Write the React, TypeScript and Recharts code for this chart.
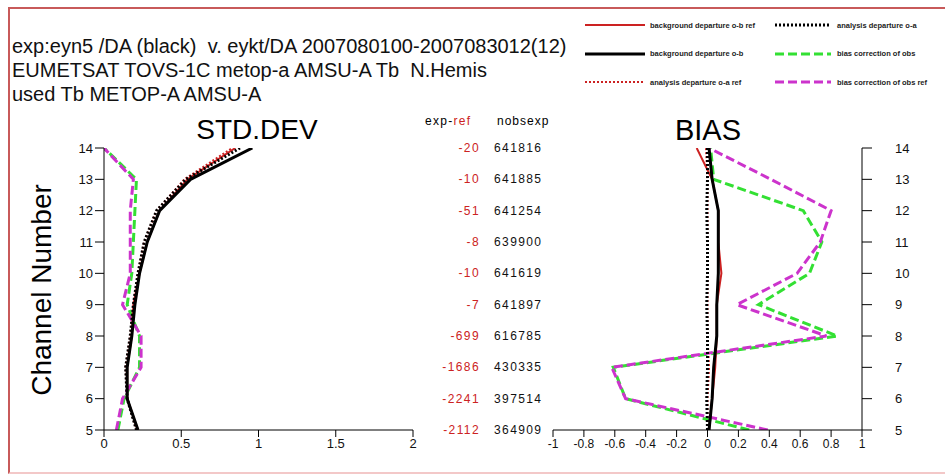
import { LineChart, Line, XAxis, YAxis } from "recharts";

const channels = [5, 6, 7, 8, 9, 10, 11, 12, 13, 14];

// STD.DEV panel, channel 5 -> 14
const stdObRef = [0.22, 0.15, 0.15, 0.18, 0.19, 0.23, 0.28, 0.36, 0.54, 0.85];
const stdObExp = [0.22, 0.15, 0.15, 0.18, 0.2, 0.23, 0.28, 0.36, 0.56, 0.96];
const stdOaRef = [0.21, 0.15, 0.14, 0.17, 0.19, 0.22, 0.26, 0.34, 0.52, 0.83];
const stdOaExp = [0.21, 0.15, 0.14, 0.17, 0.19, 0.22, 0.26, 0.34, 0.53, 0.88];
const stdBcExp = [0.09, 0.13, 0.23, 0.23, 0.15, 0.18, 0.19, 0.2, 0.21, 0.0];
const stdBcRef = [0.08, 0.12, 0.24, 0.24, 0.12, 0.17, 0.17, 0.17, 0.19, 0.0];

// BIAS panel, channel 5 -> 14
const biasObRef = [0.01, 0.03, 0.05, 0.06, 0.06, 0.09, 0.07, 0.07, 0.03, -0.07];
const biasObExp = [0.01, 0.03, 0.04, 0.06, 0.06, 0.07, 0.07, 0.07, 0.03, 0.01];
const biasOaRef = [0.0, 0.0, 0.01, 0.0, 0.0, 0.0, 0.0, 0.0, 0.0, -0.01];
const biasOaExp = [0.0, -0.005, 0.0, 0.0, -0.005, 0.0, 0.0, -0.005, 0.0, 0.0];
const biasBcExp = [0.27, -0.53, -0.61, 0.84, 0.33, 0.66, 0.74, 0.62, 0.04, 0.02];
const biasBcRef = [0.39, -0.53, -0.62, 0.77, 0.19, 0.58, 0.73, 0.8, 0.41, 0.01];

// middle table, channel 5 -> 14
const expMinusRef = [-2112, -2241, -1686, -699, -7, -10, -8, -51, -10, -20];
const nobsExp = [364909, 397514, 430335, 616785, 641897, 641619, 639900, 641254, 641885, 641816];

const stdTicks = [0, 0.5, 1, 1.5, 2];
const biasTicks = [-1, -0.8, -0.6, -0.4, -0.2, 0, 0.2, 0.4, 0.6, 0.8, 1];

const titleLines = [
  "exp:eyn5 /DA (black)  v. eykt/DA 2007080100-2007083012(12)",
  "EUMETSAT TOVS-1C metop-a AMSU-A Tb  N.Hemis",
  "used Tb METOP-A AMSU-A",
];

const RED = "#cc2222";
const GREEN = "#33e033";
const MAGENTA = "#cc33cc";
const FONT = "'Liberation Sans', Arial, sans-serif";

const series = [
  { key: "bcExp", name: "bias correction of obs", color: GREEN, width: 3, dash: "9 4" },
  { key: "bcRef", name: "bias correction of obs ref", color: MAGENTA, width: 3, dash: "9 4" },
  { key: "obRef", name: "background departure o-b ref", color: RED, width: 2, dash: undefined },
  { key: "oaRef", name: "analysis departure o-a ref", color: RED, width: 2, dash: "2 2" },
  { key: "obExp", name: "background departure o-b", color: "#000", width: 3, dash: undefined },
  { key: "oaExp", name: "analysis departure o-a", color: "#000", width: 3, dash: "2 2" },
];

const legendOrder = ["obRef", "oaExp", "obExp", "bcExp", "oaRef", "bcRef"];

const stdData = channels.map((ch, i) => ({
  ch,
  obRef: stdObRef[i],
  obExp: stdObExp[i],
  oaRef: stdOaRef[i],
  oaExp: stdOaExp[i],
  bcExp: stdBcExp[i],
  bcRef: stdBcRef[i],
}));

const biasData = channels.map((ch, i) => ({
  ch,
  obRef: biasObRef[i],
  obExp: biasObExp[i],
  oaRef: biasOaRef[i],
  oaExp: biasOaExp[i],
  bcExp: biasBcExp[i],
  bcRef: biasBcRef[i],
}));

const tickStyle = { fill: "#111", fontSize: 13, fontFamily: FONT };

function TableTick({ x, y, payload }: any) {
  const i = channels.indexOf(payload.value);
  return (
    <g fontFamily={FONT} fontSize={12} letterSpacing={1.4}>
      <text x={x + 67} y={y} dy={4} textAnchor="end" fill={RED}>{expMinusRef[i]}</text>
      <text x={x + 81} y={y} dy={4} fill="#111">{nobsExp[i]}</text>
    </g>
  );
}

function renderLines() {
  return series.map((s) => (
    <Line
      key={s.key}
      dataKey={s.key}
      stroke={s.color}
      strokeWidth={s.width}
      strokeDasharray={s.dash}
      dot={false}
      isAnimationActive={false}
    />
  ));
}

function LegendBox() {
  return (
    <div style={{ position: "absolute", left: 585, top: 18, width: 360, height: 90 }}>
      {legendOrder.map((k, i) => {
        const s = series.find((d) => d.key === k)!;
        const col = i % 2;
        const row = Math.floor(i / 2);
        return (
          <div key={k} style={{ position: "absolute", left: col * 190, top: row * 28.5, display: "flex", alignItems: "center", whiteSpace: "nowrap" }}>
            <svg width={col ? 56 : 60} height={14}>
              <line x1={0} y1={7} x2={col ? 56 : 60} y2={7} stroke={s.color} strokeWidth={s.width} strokeDasharray={s.dash} />
            </svg>
            <span style={{ fontFamily: FONT, fontSize: 7.5, fontWeight: "bold", color: "#222", marginLeft: col ? 6 : 5 }}>{s.name}</span>
          </div>
        );
      })}
    </div>
  );
}

export default function App() {
  return (
    <div style={{ position: "absolute", left: 0, top: 0, width: 945, height: 475, background: "#fff", overflow: "hidden", fontFamily: FONT }}>
      <div style={{ position: "absolute", left: 8, top: 7, width: 960, height: 463, borderLeft: "2px solid #c85a5a", borderTop: "2px solid #c85a5a", borderBottom: "2px solid #f3c8c8" }} />

      {titleLines.map((t, i) => (
        <div key={i} style={{ position: "absolute", left: 12, top: 35 + i * 24, fontSize: 20, lineHeight: "23px", color: "#111", whiteSpace: "pre" }}>{t}</div>
      ))}

      <LegendBox />

      <div style={{ position: "absolute", left: 257, top: 130, transform: "translate(-50%, -50%)", fontSize: 28 }}>STD.DEV</div>
      <div style={{ position: "absolute", left: 708, top: 130, transform: "translate(-50%, -50%)", fontSize: 29 }}>BIAS</div>
      <div style={{ position: "absolute", left: 42, top: 290, transform: "translate(-50%, -50%) rotate(-90deg)", fontSize: 28, whiteSpace: "nowrap" }}>Channel Number</div>

      <div style={{ position: "absolute", left: 425, top: 114, fontSize: 12, letterSpacing: 1.3, whiteSpace: "pre" }}>
        exp-<span style={{ color: RED }}>ref</span>
      </div>
      <div style={{ position: "absolute", left: 497, top: 114, fontSize: 12, letterSpacing: 1 }}>nobsexp</div>

      <div style={{ position: "absolute", left: 0, top: 0 }}>
        <LineChart width={560} height={475} data={stdData} layout="vertical" margin={{ top: 148, right: 0, bottom: 15, left: 64 }}>
          <XAxis type="number" domain={[0, 2]} ticks={stdTicks} allowDataOverflow stroke="#000" tickSize={7} tickMargin={2} tick={tickStyle} height={30} />
          <YAxis yAxisId={0} type="number" dataKey="ch" domain={[5, 14]} ticks={channels} reversed allowDataOverflow stroke="#000" tickSize={9} tickMargin={2} tick={tickStyle} width={40} />
          <YAxis yAxisId="tbl" orientation="right" type="number" dataKey="ch" domain={[5, 14]} ticks={channels} reversed axisLine={false} tickLine={false} tickSize={0} tickMargin={0} tick={<TableTick />} width={147} />
          {renderLines()}
        </LineChart>
      </div>

      <div style={{ position: "absolute", left: 540, top: 0 }}>
        <LineChart width={405} height={475} data={biasData} layout="vertical" margin={{ top: 148, right: 0, bottom: 15, left: 13 }}>
          <XAxis type="number" domain={[-1, 1]} ticks={biasTicks} allowDataOverflow stroke="#000" tickSize={7} tickMargin={2} tick={{ ...tickStyle, fontSize: 12 }} height={30} />
          <YAxis type="number" orientation="right" dataKey="ch" domain={[5, 14]} ticks={channels} reversed allowDataOverflow stroke="#000" tickSize={10} tickMargin={23} tick={tickStyle} width={83} />
          {renderLines()}
        </LineChart>
      </div>
    </div>
  );
}
